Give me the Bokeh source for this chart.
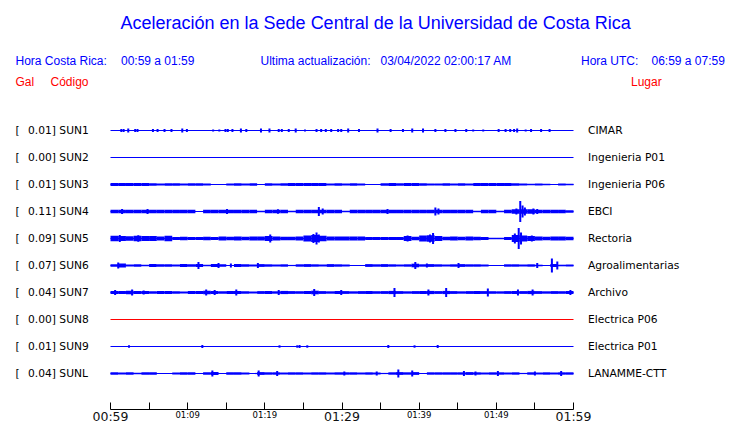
from bokeh.plotting import figure
from bokeh.models import Range1d, FixedTicker, ColumnDataSource
from bokeh.core.properties import value
from bokeh.embed import file_html
from bokeh.resources import INLINE

# ---------------- data ----------------
codes = ["SUN1", "SUN2", "SUN3", "SUN4", "SUN5", "SUN6", "SUN7", "SUN8", "SUN9", "SUNL"]
peaks = [0.01, 0.00, 0.01, 0.11, 0.09, 0.07, 0.04, 0.00, 0.01, 0.04]
places = ["CIMAR", "Ingenieria P01", "Ingenieria P06", "EBCI", "Rectoria",
          "Agroalimentarias", "Archivo", "Electrica P06", "Electrica P01", "LANAMME-CTT"]
trace_colors = ["blue", "blue", "blue", "blue", "blue", "blue", "blue", "red", "blue", "blue"]

tick_minutes = [0, 30, 60]
tick_labels = ["00:59", "01:29", "01:59"]
minor_minutes = [5, 10, 15, 20, 25, 35, 40, 45, 50, 55]
small_minutes = [10, 20, 40, 50]
small_labels = ["01:09", "01:19", "01:39", "01:49"]

# envelope (half amplitude, Gal) per one-minute bin, 60 bins
env_sun3 = [0.015, 0.015, 0.015, 0.015, 0.015, 0.012, 0.010, 0.012, 0.012, 0.010,
            0.012, 0.012, 0.010, 0.000, 0.004, 0.010, 0.012, 0.010, 0.012, 0.004,
            0.012, 0.010, 0.012, 0.015, 0.015, 0.015, 0.015, 0.015, 0.010, 0.012,
            0.010, 0.012, 0.010, 0.004, 0.000, 0.012, 0.015, 0.012, 0.015, 0.015,
            0.012, 0.010, 0.010, 0.012, 0.010, 0.012, 0.010, 0.015, 0.015, 0.015,
            0.015, 0.015, 0.012, 0.010, 0.008, 0.010, 0.008, 0.006, 0.010, 0.008]
env_sun4 = [0.017, 0.017, 0.017, 0.017, 0.017, 0.017, 0.017, 0.017, 0.017, 0.017,
            0.017, 0.006, 0.017, 0.017, 0.017, 0.017, 0.017, 0.017, 0.017, 0.008,
            0.017, 0.017, 0.017, 0.008, 0.017, 0.017, 0.017, 0.017, 0.017, 0.017,
            0.008, 0.017, 0.017, 0.017, 0.017, 0.017, 0.017, 0.017, 0.017, 0.017,
            0.017, 0.017, 0.017, 0.017, 0.017, 0.017, 0.017, 0.008, 0.017, 0.017,
            0.008, 0.017, 0.022, 0.022, 0.022, 0.017, 0.017, 0.017, 0.017, 0.012]
env_sun5 = [0.028, 0.025, 0.022, 0.028, 0.025, 0.025, 0.020, 0.028, 0.015, 0.018,
            0.015, 0.015, 0.018, 0.015, 0.020, 0.018, 0.020, 0.018, 0.020, 0.020,
            0.025, 0.020, 0.018, 0.018, 0.020, 0.030, 0.035, 0.028, 0.020, 0.020,
            0.020, 0.020, 0.020, 0.014, 0.015, 0.014, 0.016, 0.015, 0.025, 0.018,
            0.030, 0.032, 0.025, 0.018, 0.020, 0.018, 0.020, 0.018, 0.016, 0.008,
            0.008, 0.015, 0.035, 0.030, 0.025, 0.020, 0.018, 0.020, 0.020, 0.018]
env_sun6 = [0.012, 0.020, 0.010, 0.012, 0.008, 0.014, 0.012, 0.012, 0.010, 0.014,
            0.012, 0.015, 0.008, 0.014, 0.012, 0.006, 0.014, 0.012, 0.010, 0.014,
            0.012, 0.010, 0.012, 0.006, 0.012, 0.014, 0.012, 0.010, 0.014, 0.012,
            0.010, 0.003, 0.004, 0.014, 0.012, 0.014, 0.012, 0.010, 0.012, 0.018,
            0.012, 0.014, 0.012, 0.010, 0.012, 0.014, 0.012, 0.012, 0.010, 0.004,
            0.003, 0.012, 0.012, 0.010, 0.012, 0.008, 0.003, 0.015, 0.008, 0.010]
env_sun7 = [0.016, 0.014, 0.018, 0.014, 0.015, 0.012, 0.014, 0.015, 0.013, 0.010,
            0.014, 0.015, 0.018, 0.014, 0.012, 0.014, 0.016, 0.013, 0.010, 0.014,
            0.015, 0.012, 0.016, 0.014, 0.013, 0.015, 0.018, 0.014, 0.012, 0.015,
            0.014, 0.012, 0.014, 0.015, 0.013, 0.014, 0.016, 0.014, 0.012, 0.014,
            0.015, 0.016, 0.014, 0.016, 0.014, 0.012, 0.014, 0.015, 0.014, 0.013,
            0.012, 0.014, 0.015, 0.014, 0.016, 0.014, 0.012, 0.014, 0.013, 0.015]
env_sunl = [0.012, 0.010, 0.012, 0.008, 0.012, 0.012, 0.004, 0.003, 0.010, 0.012,
            0.012, 0.004, 0.012, 0.014, 0.006, 0.012, 0.012, 0.010, 0.006, 0.014,
            0.012, 0.012, 0.010, 0.012, 0.012, 0.010, 0.012, 0.012, 0.010, 0.012,
            0.012, 0.012, 0.010, 0.012, 0.010, 0.006, 0.012, 0.014, 0.012, 0.014,
            0.004, 0.012, 0.012, 0.012, 0.012, 0.012, 0.014, 0.012, 0.010, 0.012,
            0.012, 0.010, 0.012, 0.006, 0.012, 0.010, 0.012, 0.010, 0.012, 0.012]
envelopes = [None, None, env_sun3, env_sun4, env_sun5, env_sun6, env_sun7, None, None, env_sunl]

# isolated bursts: (minute, half amplitude in Gal)
spikes = [
    [(1.4, 0.015), (1.7, 0.015), (2.3, 0.02), (3.2, 0.015), (3.5, 0.015), (5.5, 0.015),
     (6.1, 0.015), (7.0, 0.015), (7.9, 0.015), (9.3, 0.02), (9.9, 0.015), (13.3, 0.01),
     (14.1, 0.01), (14.9, 0.015), (15.2, 0.015), (15.8, 0.015), (16.9, 0.02), (17.6, 0.015),
     (19.5, 0.02), (20.6, 0.02), (21.8, 0.015), (22.2, 0.015), (23.1, 0.015), (24.0, 0.02),
     (25.2, 0.01), (26.7, 0.015), (27.3, 0.015), (27.9, 0.015), (28.6, 0.015), (29.5, 0.015),
     (29.9, 0.015), (30.8, 0.02), (32.2, 0.015), (34.6, 0.02), (36.3, 0.015), (37.9, 0.015),
     (39.1, 0.02), (40.5, 0.02), (42.1, 0.015), (43.4, 0.015), (44.7, 0.015), (46.1, 0.015),
     (47.0, 0.01), (48.3, 0.01), (50.3, 0.015), (51.2, 0.015), (51.8, 0.015), (52.3, 0.015),
     (52.7, 0.02), (53.8, 0.01), (54.5, 0.015), (55.8, 0.015), (56.9, 0.015)],
    [],
    [],
    [(1.5, 0.025), (4.8, 0.025), (15.1, 0.025), (21.7, 0.022), (27.0, 0.045), (27.5, 0.03),
     (35.9, 0.025), (42.1, 0.04), (42.5, 0.03), (52.6, 0.03), (53.1, 0.105), (53.4, 0.06),
     (53.7, 0.04), (54.8, 0.03), (55.3, 0.025)],
    [(1.2, 0.035), (3.6, 0.032), (20.7, 0.04), (26.3, 0.045), (26.7, 0.06), (27.0, 0.04),
     (38.5, 0.03), (41.4, 0.04), (41.8, 0.055), (52.4, 0.05), (52.9, 0.105), (53.2, 0.06),
     (54.6, 0.03)],
    [(1.0, 0.03), (11.4, 0.035), (14.0, 0.025), (15.6, 0.02), (19.1, 0.025), (39.5, 0.035),
     (41.0, 0.02), (45.1, 0.025), (55.3, 0.025), (57.2, 0.07), (57.9, 0.04)],
    [(0.6, 0.025), (2.8, 0.03), (4.3, 0.02), (12.4, 0.03), (13.5, 0.025), (16.3, 0.03),
     (21.8, 0.025), (26.4, 0.035), (29.9, 0.025), (36.8, 0.045), (41.2, 0.03), (43.5, 0.045),
     (48.9, 0.04), (52.8, 0.03), (54.7, 0.03), (59.6, 0.025)],
    [],
    [(2.4, 0.012), (11.9, 0.015), (21.9, 0.012), (24.2, 0.012), (24.5, 0.015), (25.5, 0.012),
     (36.0, 0.015), (39.4, 0.012), (42.4, 0.015)],
    [(13.2, 0.03), (19.2, 0.03), (21.6, 0.025), (30.3, 0.02), (34.5, 0.02), (37.3, 0.04),
     (39.1, 0.03), (45.8, 0.025), (47.3, 0.02), (50.2, 0.025), (55.0, 0.02), (58.4, 0.025)],
]

# ---------------- layout ----------------
W, H = 740, 423            # canvas in px
X0, X1 = 110, 573          # px of 00:59 and 01:59
k = (X1 - X0) / 60.0       # px per minute
ROW0, ROWSTEP = 130, 27    # px of first trace and spacing
GAL_PX = 100.0             # px per Gal
AXIS_Y = 409

p = figure(width=W, height=H, min_border=0,
           x_range=Range1d(-X0 / k, (W - X0) / k), y_range=Range1d(H, 0),
           output_backend="svg", toolbar_location=None, y_axis_location=None)
p.extra_x_ranges = {"px": Range1d(0, W)}
p.grid.visible = False
p.outline_line_color = None
p.background_fill_color = "white"
p.border_fill_color = "white"

ax = p.xaxis[0]
ax.fixed_location = AXIS_Y
ax.ticker = FixedTicker(ticks=tick_minutes, minor_ticks=minor_minutes)
ax.major_label_overrides = {m: l for m, l in zip(tick_minutes, tick_labels)}
ax.bounds = (0, 60)
ax.major_tick_in = 7
ax.major_tick_out = 0
ax.minor_tick_in = 7
ax.minor_tick_out = 0
ax.axis_line_color = "black"
ax.major_tick_line_color = "black"
ax.minor_tick_line_color = "black"
ax.major_label_standoff = -1
ax.major_label_text_font = "DejaVu Sans"
ax.major_label_text_font_size = "12.5px"
ax.major_label_text_color = "#111111"

p.text(x=small_minutes, y=[414] * len(small_minutes), text=small_labels,
       text_font=value("DejaVu Sans"), text_font_size="8.5px", text_color="black",
       text_baseline="middle", text_align="center")

# traces
for i in range(len(codes)):
    yc = ROW0 + ROWSTEP * i
    col = trace_colors[i]
    p.segment(x0=[0], y0=[yc], x1=[60], y1=[yc], line_color=col, line_width=1)
    env = envelopes[i]
    if env is not None:
        src = ColumnDataSource(dict(
            left=[float(j) for j in range(len(env))],
            right=[float(j + 1) for j in range(len(env))],
            top=[yc - a * GAL_PX for a in env],
            bottom=[yc + a * GAL_PX for a in env]))
        p.quad(left="left", right="right", top="top", bottom="bottom", source=src,
               fill_color=col, line_color=None)
    if spikes[i]:
        ms = [s[0] for s in spikes[i]]
        amps = [s[1] for s in spikes[i]]
        p.segment(x0=ms, x1=ms, y0=[yc - a * GAL_PX for a in amps],
                  y1=[yc + a * GAL_PX for a in amps], line_color=col, line_width=2)

# station labels
rows_y = [ROW0 + ROWSTEP * i for i in range(len(codes))]
p.text(x=[15] * len(codes), y=rows_y, text=["["] * len(codes), x_range_name="px",
       text_font=value("DejaVu Sans"), text_font_size="10.7px", text_color="black",
       text_baseline="middle", text_align="left")
p.text(x=[27.5] * len(codes), y=rows_y,
       text=["%.2f] %s" % (g, c) for g, c in zip(peaks, codes)], x_range_name="px",
       text_font=value("DejaVu Sans"), text_font_size="10.7px", text_color="black",
       text_baseline="middle", text_align="left")
p.text(x=[587.5] * len(codes), y=rows_y, text=places, x_range_name="px",
       text_font=value("DejaVu Sans"), text_font_size="10.7px", text_color="black",
       text_baseline="middle", text_align="left")

# titles and headers
def put(x, y, t, size, color, align="left"):
    p.text(x=[x], y=[y], text=[t], x_range_name="px", text_font=value("Liberation Sans"),
           text_font_size=size, text_color=color, text_baseline="middle", text_align=align)

put(120, 22, "Aceleración en la Sede Central de la Universidad de Costa Rica", "18px", "blue")
put(15, 60, "Hora Costa Rica:", "12px", "blue")
put(120.5, 60, "00:59 a 01:59", "12px", "blue")
put(260, 60, "Ultima actualización:", "12px", "blue")
put(380, 60, "03/04/2022 02:00:17 AM", "12px", "blue")
put(580.5, 60, "Hora UTC:", "12px", "blue")
put(651, 60, "06:59 a 07:59", "12px", "blue")
put(15, 81, "Gal", "12px", "red")
put(50, 81, "Código", "12px", "red")
put(630.5, 81, "Lugar", "12px", "red")

open("out.html", "w").write(file_html(p, INLINE))
